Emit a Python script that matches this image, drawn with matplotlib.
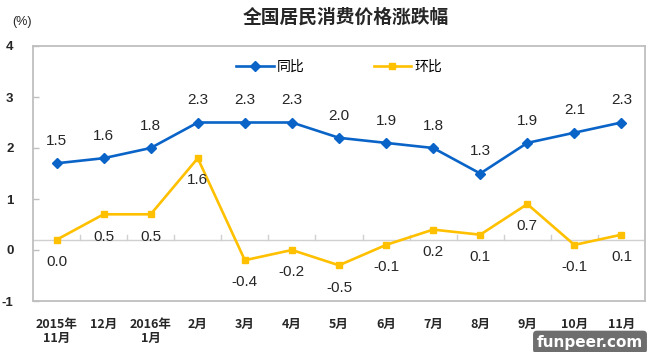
import numpy as np
import matplotlib
matplotlib.use("Agg")
import matplotlib.pyplot as plt

plt.rcParams['font.family'] = ['Noto Sans CJK SC', 'DejaVu Sans']

categories = ["2015年\n11月", "12月", "2016年\n1月", "2月", "3月", "4月", "5月",
              "6月", "7月", "8月", "9月", "10月", "11月"]
yoy = [1.5, 1.6, 1.8, 2.3, 2.3, 2.3, 2.0, 1.9, 1.8, 1.3, 1.9, 2.1, 2.3]
mom = [0.0, 0.5, 0.5, 1.6, -0.4, -0.2, -0.5, -0.1, 0.2, 0.1, 0.7, -0.1, 0.1]
ytick_labels = ["-1", "0", "1", "2", "3", "4"]
tick_shift = -0.2  # y tick labels in the reference sit slightly below the data grid

blue = "#0A64C8"
yellow = "#FFC000"
gray = "#BFBFBF"

fig = plt.figure(figsize=(6.6, 3.52), dpi=100)
ax = fig.add_axes([33/660, 1-301/352, (645-33)/660, (301-46)/352])

x = np.arange(len(categories))
ax.plot(x, yoy, color=blue, lw=1.9, marker="D", ms=5, mec=blue, mfc=blue, label="同比", zorder=3)
ax.plot(x, mom, color=yellow, lw=1.9, marker="s", ms=5, mec=yellow, mfc=yellow, label="环比", zorder=3)

lab_font = dict(family=['Liberation Sans', 'DejaVu Sans'], fontsize=11, color="#262626")
for xi, v in zip(x, yoy):
    ax.annotate(f"{v:.1f}", (xi, v), xytext=(0, 16), textcoords="offset points",
                ha="center", va="center", **lab_font)
for xi, v in zip(x, mom):
    ax.annotate(f"{v:.1f}", (xi, v), xytext=(0, -16), textcoords="offset points",
                ha="center", va="center", **lab_font)

ax.set_xlim(-0.5, len(categories) - 0.5)
ax.set_ylim(-1 + tick_shift, 4 + tick_shift)
yt = np.arange(-1, 5) + tick_shift
ax.set_yticks(yt)
ax.set_yticklabels(ytick_labels, fontsize=9.5, fontweight="bold", color="#262626",
                   family=['Liberation Sans', 'DejaVu Sans'])
ax.tick_params(axis="y", direction="in", length=4, color=gray, width=1, pad=14)

ax.set_xticks(x)
ax.set_xticklabels(categories, fontsize=9, fontweight="bold", color="#262626", linespacing=1.15)
ax.tick_params(axis="x", length=0, pad=12)

for s in ax.spines.values():
    s.set_color(gray)
    s.set_linewidth(1.3)

# zero axis with category boundary ticks
ax.axhline(0, color="#D0D0D0", lw=1, zorder=1)
for b in np.arange(0.5, len(categories) - 1, 1.0):
    ax.plot([b, b], [0, 0.1], color="#D0D0D0", lw=1, zorder=1)

leg = ax.legend(loc="center", bbox_to_anchor=(0.5, 0.92), ncol=2, frameon=False,
                fontsize=10, handlelength=2.7, handletextpad=0.2, columnspacing=5)

fig.text(346/660, 1-17/352, "全国居民消费价格涨跌幅", ha="center", va="center",
         fontsize=13.5, fontweight="bold", color="#262626")
fig.text(22/660, 1-22/352, "(%)", ha="center", va="center", fontsize=9,
         color="#262626", family=['Liberation Sans', 'DejaVu Sans'])

fig.text(590/660, 1-342/352, "funpeer.com", ha="center", va="center", fontsize=11,
         fontweight="bold", color="white", family=['DejaVu Sans'],
         bbox=dict(boxstyle="round,pad=0.25", fc="#6E6E6E", ec="none"))

fig.savefig("out.png", dpi=100)
